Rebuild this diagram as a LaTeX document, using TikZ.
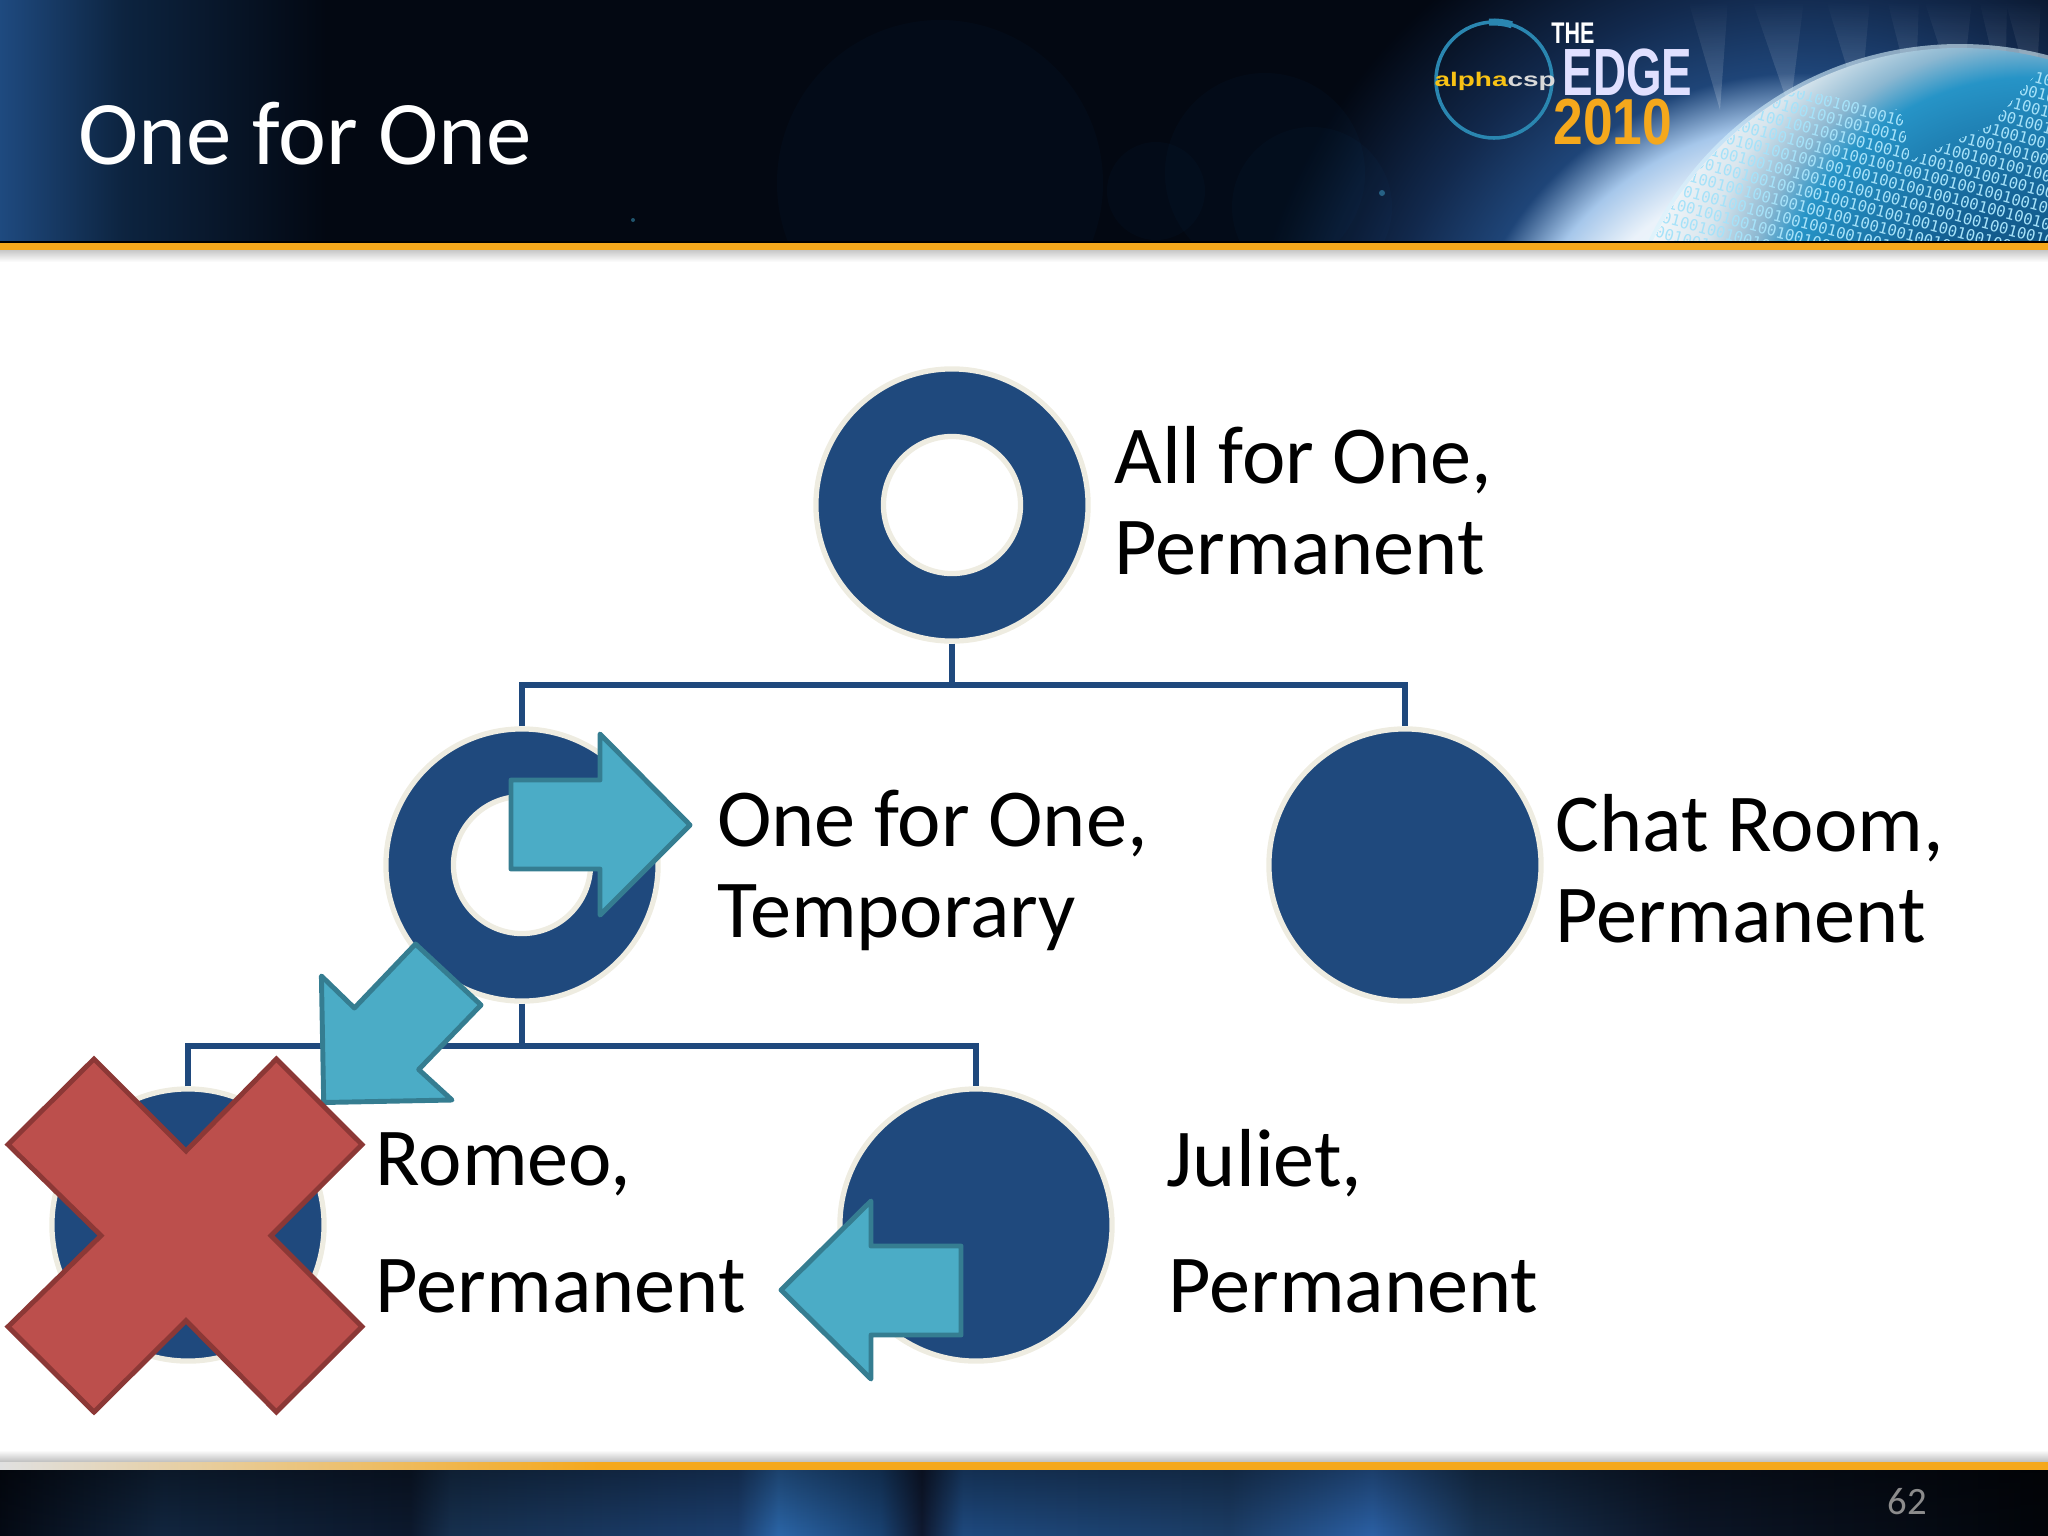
\documentclass[tikz,border=0pt]{standalone}
\usepackage{fontspec}
\setmainfont{Carlito}
\newfontfamily\logofont{Liberation Sans}
\newfontfamily\digitfont{DejaVu Sans Mono}
\usetikzlibrary{positioning,fadings}
\definecolor{slideblue}{HTML}{1F497D}
\definecolor{ringedge}{HTML}{EEECE1}
\definecolor{arrowfill}{HTML}{4BACC6}
\definecolor{arrowedge}{HTML}{357D91}
\definecolor{crossfill}{HTML}{BC4F4C}
\definecolor{crossedge}{HTML}{8C3836}
\definecolor{stripeorange}{HTML}{F5A81C}
\definecolor{logoring}{HTML}{2A86B0}
\pgfdeclarehorizontalshading{footband}{100bp}{rgb(0bp)=(0.02,0.04,0.08);rgb(25bp)=(0.02,0.04,0.08);rgb(29bp)=(0.07,0.15,0.25);rgb(35bp)=(0.05,0.10,0.18);rgb(36bp)=(0.09,0.19,0.31);rgb(43bp)=(0.11,0.25,0.44);rgb(44bp)=(0.17,0.40,0.66);rgb(46.5bp)=(0.10,0.26,0.45);rgb(47.5bp)=(0.06,0.10,0.19);rgb(48.5bp)=(0.12,0.29,0.50);rgb(55bp)=(0.11,0.24,0.40);rgb(58.5bp)=(0.17,0.38,0.65);rgb(61bp)=(0.10,0.21,0.34);rgb(66bp)=(0.05,0.09,0.16);rgb(75bp)=(0.01,0.02,0.04);rgb(100bp)=(0.01,0.02,0.04)}
\pgfdeclarehorizontalshading{headband}{100bp}{rgb(0bp)=(0.12,0.29,0.50);rgb(25bp)=(0.12,0.29,0.50);rgb(28bp)=(0.05,0.14,0.25);rgb(33bp)=(0.01,0.03,0.07);rgb(100bp)=(0.01,0.03,0.07)}
\pgfdeclareradialshading{haloglow}{\pgfpoint{0bp}{0bp}}{rgb(0bp)=(1,1,1);rgb(11bp)=(0.92,0.95,0.98);rgb(13.2bp)=(0.65,0.78,0.92);rgb(15.5bp)=(0.12,0.27,0.47);rgb(19.2bp)=(0.07,0.16,0.30);rgb(25bp)=(0.01,0.03,0.07);rgb(50bp)=(0.01,0.03,0.07)}
\pgfdeclareradialshading{globeglow}{\pgfpoint{0bp}{0bp}}{rgb(0bp)=(0.05,0.28,0.45);rgb(8bp)=(0.08,0.38,0.58);rgb(15.8bp)=(0.15,0.58,0.78);rgb(18bp)=(0.55,0.72,0.82);rgb(21bp)=(0.85,0.90,0.93);rgb(25bp)=(0.97,0.98,0.99);rgb(50bp)=(0.97,0.98,0.99)}
\newcommand{\digitrow}{1001001001001001001001001001001001001001001001001001}
\newcommand{\digitfour}{\digitrow\\\hspace{2pt}\digitrow\\\hspace{4pt}\digitrow\\\hspace{6pt}\digitrow}
\tikzset{
  ringnode/.style={circle,fill=slideblue,draw=ringedge,line width=1.5pt,inner sep=0pt,minimum size=2.72cm},
  holenode/.style={circle,fill=white,draw=ringedge,line width=1.5pt,inner sep=0pt,minimum size=1.37cm},
  linknode/.style={draw=slideblue,line width=1.6pt},
  labelnode/.style={align=left,anchor=west,inner sep=0pt,font=\fontsize{23.4}{25.9}\selectfont},
  flowarrow/.style={fill=arrowfill,draw=arrowedge,line width=1.4pt,line join=round},
  crossmark/.style={fill=crossfill,draw=crossedge,line width=1.4pt},
  flare/.style={fill=cyan!50!blue,opacity=0.035},
  rayband/.style={fill=white,opacity=0.2,path fading=north},
}
\begin{document}
\begin{tikzpicture}[x=0.01cm,y=-0.01cm]
  \useasboundingbox (0,0) rectangle (2048,1536);
  % header
  \shade [shading=headband] (0,0) rectangle (2048,246);
  \begin{scope}
    \clip (0,0) rectangle (2048,246);
    \shade [shading=haloglow] (1800,420) circle [radius=560];
    \fill [flare] (940,183) circle [radius=163];
    \fill [flare] (1265,173) circle [radius=100];
    \fill [flare] (1156,191) circle [radius=49];
    \fill [flare] (1312,207) circle [radius=80];
    \fill [cyan!70,opacity=0.4] (1382,193) circle [radius=3];
    \fill [cyan!70,opacity=0.4] (633,220) circle [radius=2];
    \foreach \rayx/\rayw in {1720/20,1790/26,1860/22,1915/16,1960/24,2005/14,2035/18}
      \fill [rayband] (\rayx,110) -- (\rayx-\rayw-12,0) -- (\rayx+\rayw-12,0) -- cycle;
    \fill [cyan!15,opacity=0.6] (1960,389) circle [radius=345];
    \begin{scope}
      \clip (1960,389) circle [radius=341];
      \shade [shading=globeglow] (2030,330) circle [radius=400];
      \clip (1800,90) -- (1900,110) -- (1910,160) -- (1990,125) -- (2048,60) -- (2048,246) -- (1640,246) -- (1700,130) -- cycle;
      \node [text=cyan!35!white,align=left,rotate=-15,inner sep=0pt,font=\digitfont\fontsize{4.4}{4.4}\selectfont] (globedigits) at (1890,190)
        {\digitfour\\\digitfour\\\digitfour\\\digitfour\\\digitfour};
    \end{scope}
  \end{scope}
  % logo
  \draw [color=logoring,line width=1pt] (1494,80) circle [radius=58];
  \draw [color=logoring,line width=2pt] (1494,80) ++(-95:58) arc [start angle=-95,end angle=-72,radius=58];
  \node [text=stripeorange!70!yellow,font=\logofont\bfseries\fontsize{5.6}{6}\selectfont,inner sep=0pt,anchor=west,xscale=1.42] (alphatext) at (1433.5,81) {alpha\textcolor{white!85!black}{csp}};
  \node [text=white,font=\logofont\bfseries\fontsize{8.5}{9}\selectfont,inner sep=0pt,xscale=0.72] (thetext) at (1573,33) {THE};
  \node [text=white!88!blue,font=\logofont\bfseries\fontsize{19}{20}\selectfont,inner sep=0pt,xscale=0.685] (edgetext) at (1627.5,72) {EDGE};
  \node [text=stripeorange,font=\logofont\bfseries\fontsize{18.5}{20}\selectfont,inner sep=0pt,xscale=0.82] (yeartext) at (1613,122) {2010};
  \node [text=white,font=\fontsize{25.85}{28}\selectfont,inner sep=0pt,anchor=west] (slidetitle) at (78,134) {One for One};
  % strips and shadows
  \shade [top color=black!22,bottom color=white] (0,250) rectangle (2048,262);
  \fill [stripeorange] (0,243) rectangle (2048,250);
  \fill [black] (0,241) rectangle (2048,243);
  \shade [top color=white,bottom color=black!28] (0,1450) rectangle (2048,1463);
  \shade [left color=black!12,right color=stripeorange] (0,1462) rectangle (600,1470);
  \fill [stripeorange] (600,1462) rectangle (2048,1470);
  \shade [shading=footband] (0,1470) rectangle (2048,1536);
  \fill [black,opacity=0.35,path fading=south] (0,1470) rectangle (2048,1536);
  \node [text=black!45,font=\fontsize{11}{12}\selectfont,inner sep=0pt] (pagenum) at (1907,1502) {62};
  % rings
  \node [ringnode] (allring) at (952,505) {};
  \node [holenode] (allhole) at (allring) {};
  \node [ringnode] (tempring) at (522,865) {};
  \node [holenode] (temphole) at (tempring) {};
  \node [ringnode] (chatring) at (1405,865) {};
  \node [ringnode] (romeoring) at (188,1225) {};
  \node [ringnode] (julietring) at (976,1225) {};
  % links
  \coordinate (allfork) at (952,685);
  \coordinate (tempfork) at (522,1046);
  \draw [linknode] (allring) -- (allfork);
  \draw [linknode] (tempring.north) |- (allfork) -| (chatring.north);
  \draw [linknode] (tempring) -- (tempfork);
  \draw [linknode] (romeoring.north) |- (tempfork) -| (julietring.north);
  % labels
  \node [labelnode] (alltext) at (1114,501) {All for One,\\Permanent};
  \node [labelnode] (temptext) at (716.5,870) {One for One,\\Temporary};
  \node [labelnode] (chattext) at (1555,869) {Chat Room,\\Permanent};
  \node [labelnode] (romeotext) at (375,1223) {Romeo,\\[10pt]Permanent};
  \node [labelnode] (juliettext) at (1166,1221) {Juliet,\\[10pt]\hspace{0.5pt}Permanent};
  % arrows and cross
  \draw [flowarrow] (511,780) -- (600,780) -- (600,734) -- (690,825) -- (600,915) -- (600,869) -- (511,869) -- cycle;
  \draw [flowarrow] (415.5,944) -- (481,1005) -- (418.7,1069.5) -- (452,1100) -- (323.7,1102.5) -- (321.4,976) -- (354.4,1008) -- cycle;
  \draw [flowarrow] (781,1290) -- (871,1201) -- (871,1246) -- (961,1246) -- (961,1335) -- (871,1335) -- (871,1379) -- cycle;
  \draw [crossmark] (94,1059) -- (186,1151) -- (276.4,1059) -- (362,1144.5) -- (271,1235.6) -- (362,1326.7) -- (276.4,1412) -- (186,1320.6) -- (94,1412) -- (8,1326.7) -- (101,1235.6) -- (8,1144.5) -- cycle;
\end{tikzpicture}
\end{document}
